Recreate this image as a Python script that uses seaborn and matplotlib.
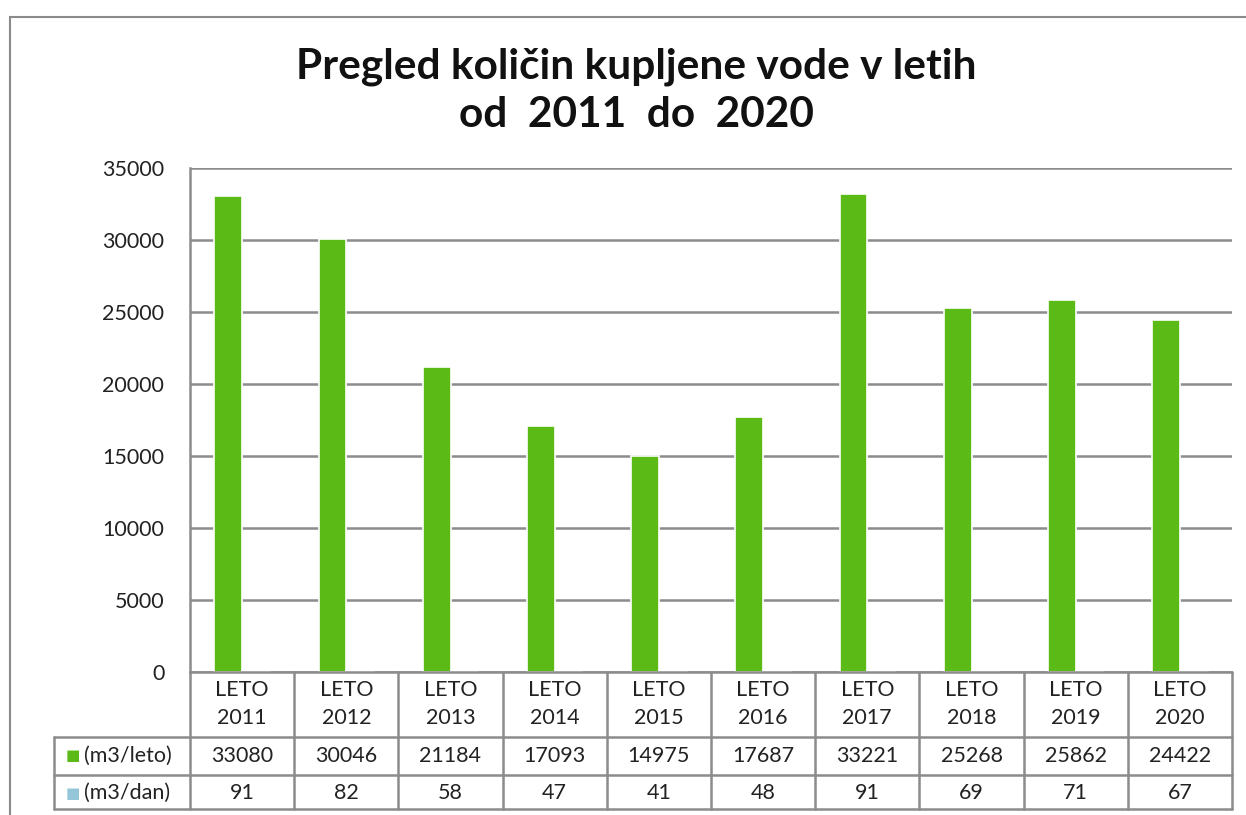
import pandas as pd
import matplotlib.pyplot as plt
import seaborn as sns
from matplotlib.patches import Rectangle
from matplotlib.lines import Line2D
import matplotlib.transforms as mtransforms

leta = ['2011', '2012', '2013', '2014', '2015', '2016', '2017', '2018', '2019', '2020']
m3_leto = [33080, 30046, 21184, 17093, 14975, 17687, 33221, 25268, 25862, 24422]
m3_dan = [91, 82, 58, 47, 41, 48, 91, 69, 71, 67]
serije = ['(m3/leto)', '(m3/dan)']
barve = ['#5cba17', '#95c6d8']

df = pd.DataFrame({
    'leto': leta * 2,
    'serija': [serije[0]] * len(leta) + [serije[1]] * len(leta),
    'vrednost': m3_leto + m3_dan,
})

sns.set_style('white')
plt.rcParams['font.family'] = ['Lato', 'DejaVu Sans']

fig = plt.figure(figsize=(12.46, 8.15), dpi=100)
ax = fig.add_axes([190 / 1246, 1 - 672 / 815, 1042 / 1246, 504 / 815])

sns.barplot(data=df, x='leto', y='vrednost', hue='serija', palette=barve,
            width=0.53, saturation=1, legend=False, ax=ax,
            edgecolor='white', linewidth=1.2, zorder=3)

grid_c = '#8c8c8c'
txt_c = '#222222'
fs = 15.5
ax.set_xlim(-0.5, len(leta) - 0.5)
ax.set_ylim(0, 35000)
ax.set_yticks(range(0, 35001, 5000))
ax.yaxis.grid(True, color=grid_c, linewidth=1.8, zorder=0)
ax.set_axisbelow(True)
ax.tick_params(axis='y', length=0, pad=18.5, labelsize=fs, labelcolor=txt_c)
ax.tick_params(axis='x', length=0, labelbottom=False)
ax.set_xlabel('')
ax.set_ylabel('')
for s in ['top', 'right', 'bottom']:
    ax.spines[s].set_visible(False)
ax.spines['left'].set_color(grid_c)
ax.spines['left'].set_linewidth(1.8)

# data table under the plot (pixel rows -> axes fraction)
tr = mtransforms.blended_transform_factory(ax.transData, ax.transAxes)


def ypix(p):
    return -(p - 672) / 504


y0, y1, y2, y3 = ypix(672), ypix(737), ypix(775), ypix(809)
kw = dict(color=grid_c, linewidth=1.8, clip_on=False, zorder=5)

ax.add_line(Line2D([-0.5, len(leta) - 0.5], [y0, y0], transform=tr, **kw))
left_x = -0.5 - 136 / 104.2
for yy in [y1, y2, y3]:
    ax.add_line(Line2D([left_x, len(leta) - 0.5], [yy, yy], transform=tr, **kw))
for i in range(len(leta) + 1):
    ax.add_line(Line2D([i - 0.5, i - 0.5], [y0, y3], transform=tr, **kw))
ax.add_line(Line2D([left_x, left_x], [y1, y3], transform=tr, **kw))

for i, leto in enumerate(leta):
    ax.text(i, ypix(696), 'LETO', transform=tr, ha='center', va='baseline',
            fontsize=fs, color=txt_c)
    ax.text(i, ypix(724), leto, transform=tr, ha='center', va='baseline',
            fontsize=fs, color=txt_c)
    ax.text(i, ypix(762), str(m3_leto[i]), transform=tr, ha='center', va='baseline',
            fontsize=fs, color=txt_c)
    ax.text(i, ypix(799), str(m3_dan[i]), transform=tr, ha='center', va='baseline',
            fontsize=fs, color=txt_c)

for base, lab, c in [(762, serije[0], barve[0]), (799, serije[1], barve[1])]:
    ax.text(left_x + 0.11, ypix(base - 6), '\u25a0', transform=tr, ha='left', va='center',
            fontsize=11, color=c, family='DejaVu Sans')
    ax.text(left_x + 0.29, ypix(base), lab, transform=tr, ha='left', va='baseline',
            fontsize=fs, color=txt_c)

# title, two lines
fig.text(636 / 1246, 1 - 79 / 815, 'Pregled količin kupljene vode v letih',
         ha='center', va='baseline', fontsize=30.5, fontweight='bold', color='#111111')
fig.text(636 / 1246, 1 - 127 / 815, 'od  2011  do  2020',
         ha='center', va='baseline', fontsize=30.5, fontweight='bold', color='#111111')

# outer chart frame
fig.patches.append(Rectangle((10 / 1246, -0.1), 1.2, 1 - 17 / 815 + 0.1,
                             transform=fig.transFigure, fill=False,
                             edgecolor='#8a8a8a', linewidth=1.5))

fig.savefig('out.png', dpi=100)
